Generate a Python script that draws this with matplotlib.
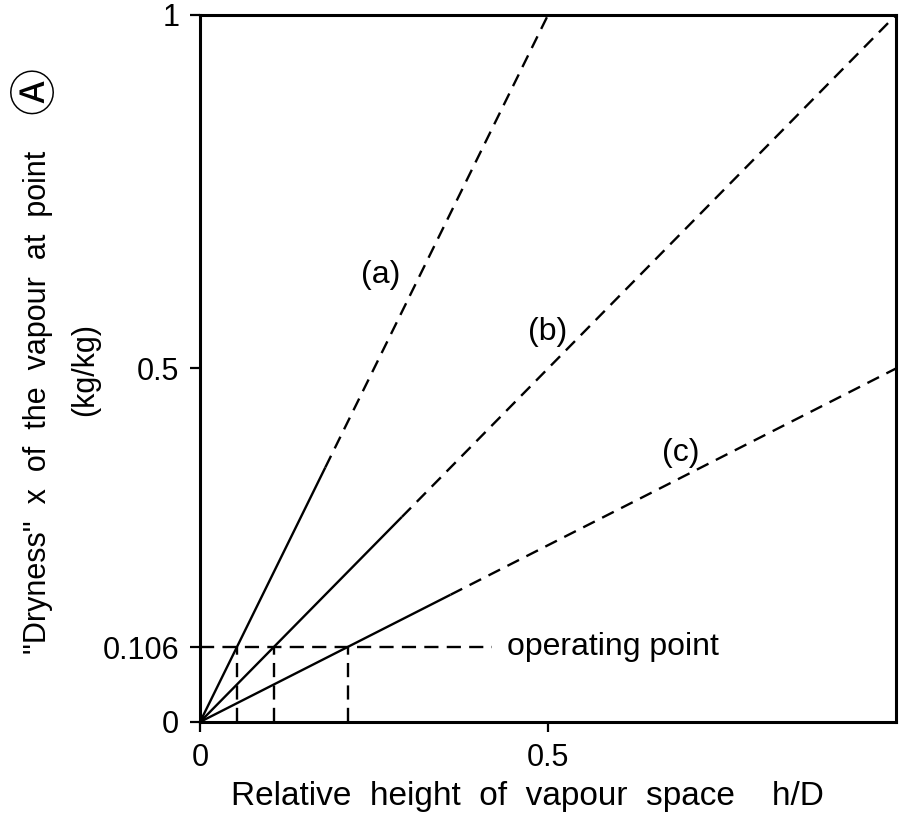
import numpy as np
import matplotlib.pyplot as plt

plt.rcParams['font.family'] = ['Liberation Sans', 'DejaVu Sans', 'Noto Sans CJK JP']

# slopes of the three dryness curves x = k * h/D
curve_names = ['(a)', '(b)', '(c)']
slopes = [2.0, 1.0, 0.5]
solid_until = [0.18, 0.29, 0.36]   # h/D where the measured (solid) part ends
label_pos = [(0.259, 0.632), (0.499, 0.552), (0.69, 0.38)]

operating_x = 0.106
y_ticks = [0, 0.106, 0.5, 1]
y_ticklabels = ['0', '0.106', '0.5', '1']
x_ticks = [0, 0.5]
x_ticklabels = ['0', '0.5']

fig = plt.figure(figsize=(8.99, 8.22), dpi=100)
ax = fig.add_axes([0.2225, 0.1217, 0.7742, 0.8601])
ax.set_xlim(0, 1)
ax.set_ylim(0, 1)

lw = 1.7
for k, hs, name, (lx, ly) in zip(slopes, solid_until, curve_names, label_pos):
    h_end = min(1.0, 1.0 / k)
    ax.plot([0, hs], [0, k * hs], color='black', lw=lw, solid_capstyle='butt')
    ax.plot([hs, h_end], [k * hs, k * h_end], color='black', lw=lw,
            dashes=(5.5, 3.5), clip_on=False)
    ax.text(lx, ly, name, fontsize=23, ha='center', va='center')

    # drop line from the operating point to the h/D axis
    h_op = operating_x / k
    ax.plot([h_op, h_op], [0, operating_x], color='black', lw=lw, dashes=(6, 3.5))

# operating point level
ax.plot([0, 0.42], [operating_x, operating_x], color='black', lw=lw, dashes=(6, 3.5))
ax.text(0.441, operating_x, 'operating point', fontsize=23, ha='left', va='center')

for s in ax.spines.values():
    s.set_linewidth(2.2)

ax.set_yticks(y_ticks)
ax.set_yticklabels(y_ticklabels)
ax.set_xticks(x_ticks)
ax.set_xticklabels(x_ticklabels)
ax.tick_params(direction='out', length=7, width=1.6, labelsize=22, pad=8)

# y label: two lines, the circled A is drawn a bit larger
ax.text(-0.233, 0.4526, '"Dryness"  x  of  the  vapour  at  point', fontsize=22,
        rotation=90, ha='center', va='center', transform=ax.transAxes)
ax.text(-0.233, 0.893, '\u24b6', fontsize=34, rotation=90, ha='center', va='center',
        transform=ax.transAxes)
ax.text(-0.165, 0.498, '(kg/kg)', fontsize=22, rotation=90, ha='center', va='center',
        transform=ax.transAxes)

ax.text(0.47, -0.105, 'Relative  height  of  vapour  space    h/D', fontsize=24,
        ha='center', va='center', transform=ax.transAxes)

fig.savefig('out.png', dpi=100)
